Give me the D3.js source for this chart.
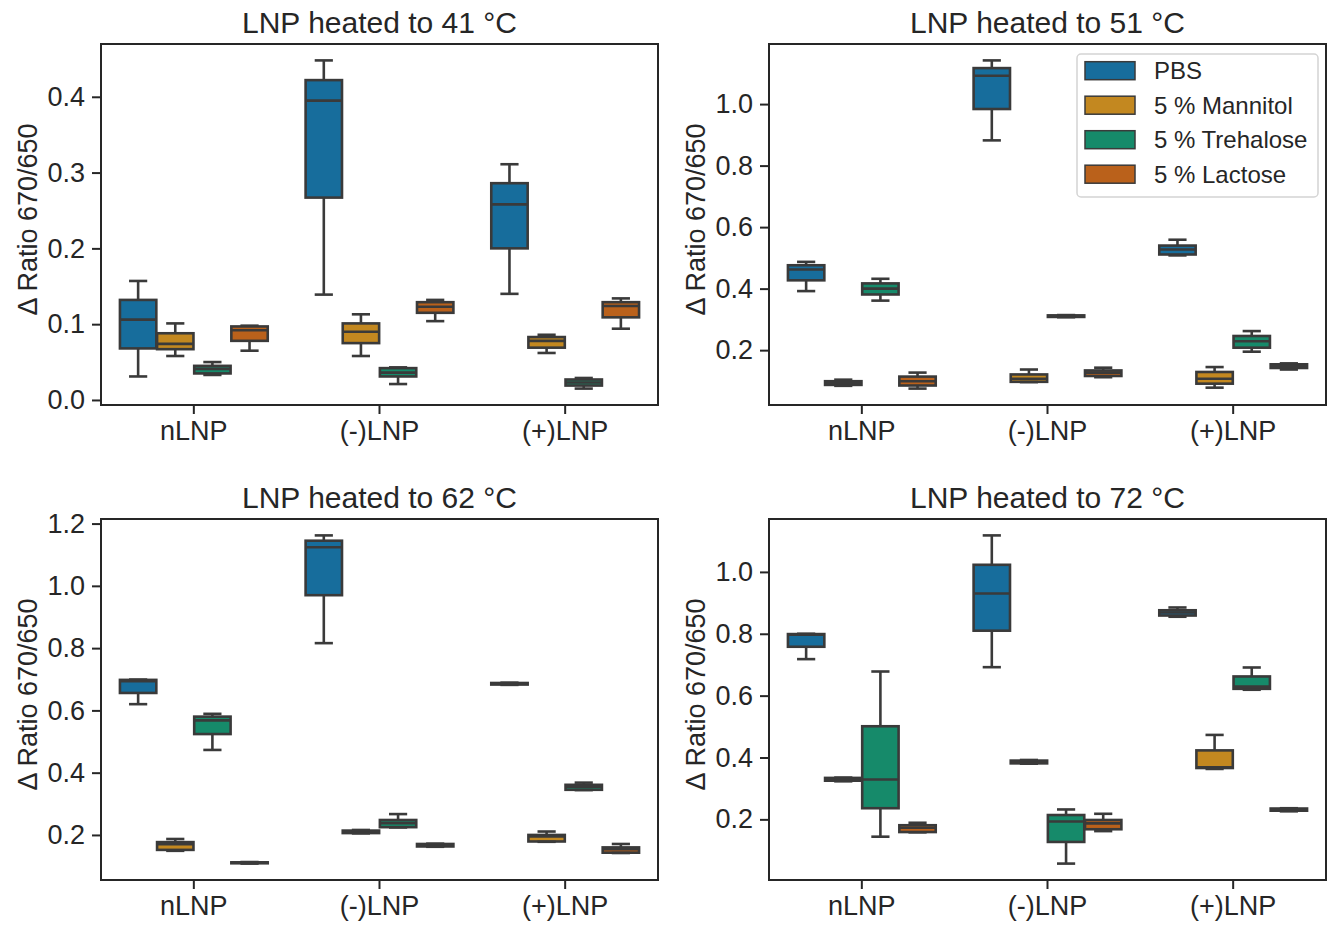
<!DOCTYPE html>
<html>
<head>
<meta charset="utf-8">
<script src="https://cdn.jsdelivr.net/npm/d3@7"></script>
<style>
  body { margin: 0; background: #fff; }
  svg text { font-family: "Liberation Sans", Arial, sans-serif; fill: #262626; }
</style>
</head>
<body>
<div id="chart"></div>
<script>
const categories = ['nLNP', '(-)LNP', '(+)LNP'];
const hues = ['PBS', '5 % Mannitol', '5 % Trehalose', '5 % Lactose'];
const titles = ['LNP heated to 41 °C', 'LNP heated to 51 °C', 'LNP heated to 62 °C', 'LNP heated to 72 °C'];
const hueColors = ['#176d9c', '#c38820', '#168a6a', '#ba611b'];

// [lower whisker, Q1, median, Q3, upper whisker], four hues per category
const stats41 = [
  [0.031, 0.068, 0.106, 0.132, 0.157],
  [0.058, 0.067, 0.074, 0.088, 0.101],
  [0.033, 0.035, 0.041, 0.045, 0.050],
  [0.065, 0.078, 0.092, 0.097, 0.098],
  [0.139, 0.267, 0.395, 0.422, 0.448],
  [0.058, 0.075, 0.090, 0.101, 0.113],
  [0.021, 0.031, 0.036, 0.042, 0.043],
  [0.104, 0.115, 0.123, 0.129, 0.132],
  [0.140, 0.200, 0.258, 0.286, 0.311],
  [0.062, 0.069, 0.078, 0.083, 0.086],
  [0.015, 0.019, 0.023, 0.027, 0.029],
  [0.094, 0.109, 0.124, 0.129, 0.134]
];
const stats51 = [
  [0.392, 0.427, 0.462, 0.476, 0.487],
  [0.084, 0.087, 0.092, 0.099, 0.104],
  [0.361, 0.381, 0.400, 0.417, 0.432],
  [0.075, 0.085, 0.099, 0.114, 0.127],
  [0.882, 0.984, 1.092, 1.117, 1.142],
  [0.096, 0.097, 0.107, 0.121, 0.137],
  [0.307, 0.308, 0.311, 0.313, 0.314],
  [0.112, 0.116, 0.127, 0.134, 0.143],
  [0.508, 0.511, 0.527, 0.540, 0.559],
  [0.078, 0.091, 0.107, 0.129, 0.145],
  [0.195, 0.208, 0.229, 0.246, 0.262],
  [0.137, 0.142, 0.148, 0.154, 0.157]
];
const stats62 = [
  [0.620, 0.656, 0.694, 0.698, 0.699],
  [0.149, 0.152, 0.170, 0.177, 0.187],
  [0.473, 0.524, 0.568, 0.580, 0.589],
  [0.108, 0.109, 0.111, 0.112, 0.113],
  [0.816, 0.970, 1.124, 1.145, 1.162],
  [0.205, 0.206, 0.211, 0.214, 0.216],
  [0.224, 0.225, 0.238, 0.248, 0.267],
  [0.162, 0.163, 0.168, 0.171, 0.172],
  [0.682, 0.683, 0.686, 0.688, 0.689],
  [0.178, 0.179, 0.195, 0.200, 0.211],
  [0.344, 0.345, 0.355, 0.361, 0.368],
  [0.142, 0.143, 0.154, 0.160, 0.171]
];
const stats72 = [
  [0.718, 0.758, 0.797, 0.799, 0.800],
  [0.323, 0.325, 0.330, 0.334, 0.335],
  [0.144, 0.236, 0.329, 0.501, 0.678],
  [0.158, 0.159, 0.173, 0.181, 0.189],
  [0.692, 0.810, 0.930, 1.023, 1.118],
  [0.380, 0.381, 0.387, 0.390, 0.392],
  [0.057, 0.127, 0.193, 0.214, 0.232],
  [0.162, 0.168, 0.187, 0.198, 0.218],
  [0.855, 0.859, 0.869, 0.876, 0.885],
  [0.363, 0.366, 0.368, 0.423, 0.473],
  [0.619, 0.622, 0.629, 0.662, 0.691],
  [0.226, 0.228, 0.232, 0.235, 0.236]
];

const panels = [stats41, stats51, stats62, stats72];
const panelOrigins = [[101, 44], [769, 44], [101, 519], [769, 519]];
const plotW = 557, plotH = 361;
const ink = '#262626';
const boxLine = '#3a3a3a';
const lw = 2.6;

const svg = d3.select('#chart').append('svg')
    .attr('width', 1334)
    .attr('height', 926);

const color = d3.scaleOrdinal().domain(hues).range(hueColors);

panels.forEach((stats, p) => {
    const [ox, oy] = panelOrigins[p];
    const g = svg.append('g').attr('transform', `translate(${ox},${oy})`);

    // matplotlib-style autoscale: 5 % margin around the data
    const lo = d3.min(stats, d => d[0]);
    const hi = d3.max(stats, d => d[4]);
    const pad = (hi - lo) * 0.05;
    const y = d3.scaleLinear().domain([lo - pad, hi + pad]).range([plotH, 0]);
    const x = d3.scaleBand().domain(categories).range([0, plotW]);
    const hueX = d3.scaleBand().domain(hues).range([0, x.bandwidth() * 0.8]);
    const boxW = hueX.bandwidth() * 0.98;
    const capW = boxW / 2;

    const rows = stats.map((s, i) => ({
        cat: categories[Math.floor(i / hues.length)],
        hue: hues[i % hues.length],
        lo: s[0], q1: s[1], med: s[2], q3: s[3], hi: s[4]
    }));

    const boxes = g.selectAll('.box')
        .data(rows)
        .enter().append('g')
        .attr('class', 'box')
        .attr('transform', d => `translate(${x(d.cat) + x.bandwidth() * 0.1 + hueX(d.hue) + hueX.bandwidth() / 2},0)`);

    boxes.append('line')
        .attr('y1', d => y(d.hi)).attr('y2', d => y(d.q3))
        .attr('stroke', boxLine).attr('stroke-width', lw);
    boxes.append('line')
        .attr('y1', d => y(d.q1)).attr('y2', d => y(d.lo))
        .attr('stroke', boxLine).attr('stroke-width', lw);

    boxes.append('rect')
        .attr('x', -boxW / 2)
        .attr('width', boxW)
        .attr('y', d => y(d.q3))
        .attr('height', d => Math.max(0, y(d.q1) - y(d.q3)))
        .attr('fill', d => color(d.hue))
        .attr('stroke', boxLine)
        .attr('stroke-width', lw);

    boxes.append('line')
        .attr('x1', -boxW / 2).attr('x2', boxW / 2)
        .attr('y1', d => y(d.med)).attr('y2', d => y(d.med))
        .attr('stroke', boxLine).attr('stroke-width', lw);

    ['hi', 'lo'].forEach(k => {
        boxes.append('line')
            .attr('x1', -capW / 2).attr('x2', capW / 2)
            .attr('y1', d => y(d[k])).attr('y2', d => y(d[k]))
            .attr('stroke', boxLine).attr('stroke-width', lw);
    });

    // frame
    g.append('rect')
        .attr('width', plotW).attr('height', plotH)
        .attr('fill', 'none')
        .attr('stroke', ink)
        .attr('stroke-width', 2);

    const yAxis = g.append('g')
        .call(d3.axisLeft(y).ticks(5).tickFormat(d3.format('.1f')).tickSize(9).tickPadding(7));
    yAxis.select('.domain').remove();
    yAxis.selectAll('line').attr('stroke', ink).attr('stroke-width', 2);
    yAxis.selectAll('text').style('font-size', '27px').attr('fill', ink);

    const xAxis = g.append('g')
        .attr('transform', `translate(0,${plotH})`)
        .call(d3.axisBottom(x).tickSize(9).tickPadding(7));
    xAxis.select('.domain').remove();
    xAxis.selectAll('line').attr('stroke', ink).attr('stroke-width', 2);
    xAxis.selectAll('text').style('font-size', '27px').attr('fill', ink);

    g.append('text')
        .attr('x', plotW / 2)
        .attr('y', -11)
        .attr('text-anchor', 'middle')
        .style('font-size', '30px')
        .text(titles[p]);

    g.append('text')
        .attr('transform', `translate(-64,${plotH / 2 - 5}) rotate(-90)`)
        .attr('text-anchor', 'middle')
        .style('font-size', '27px')
        .text('Δ Ratio 670/650');

    if (p === 1) {
        const legend = g.append('g')
            .attr('transform', `translate(${plotW - 8 - 241},10)`);

        legend.append('rect')
            .attr('width', 241).attr('height', 143)
            .attr('rx', 4)
            .attr('fill', '#fff').attr('fill-opacity', 0.8)
            .attr('stroke', '#d4d4d4').attr('stroke-width', 1.5);

        const item = legend.selectAll('.legend')
            .data(hues)
            .enter().append('g')
            .attr('class', 'legend')
            .attr('transform', (d, i) => `translate(0,${16.7 + i * 34.5})`);

        item.append('rect')
            .attr('x', 8).attr('y', -9)
            .attr('width', 50).attr('height', 18)
            .attr('fill', color)
            .attr('stroke', boxLine).attr('stroke-width', 1.5);

        item.append('text')
            .attr('x', 77)
            .attr('dy', '0.35em')
            .style('font-size', '24px')
            .text(d => d);
    }
});
</script>
</body>
</html>
